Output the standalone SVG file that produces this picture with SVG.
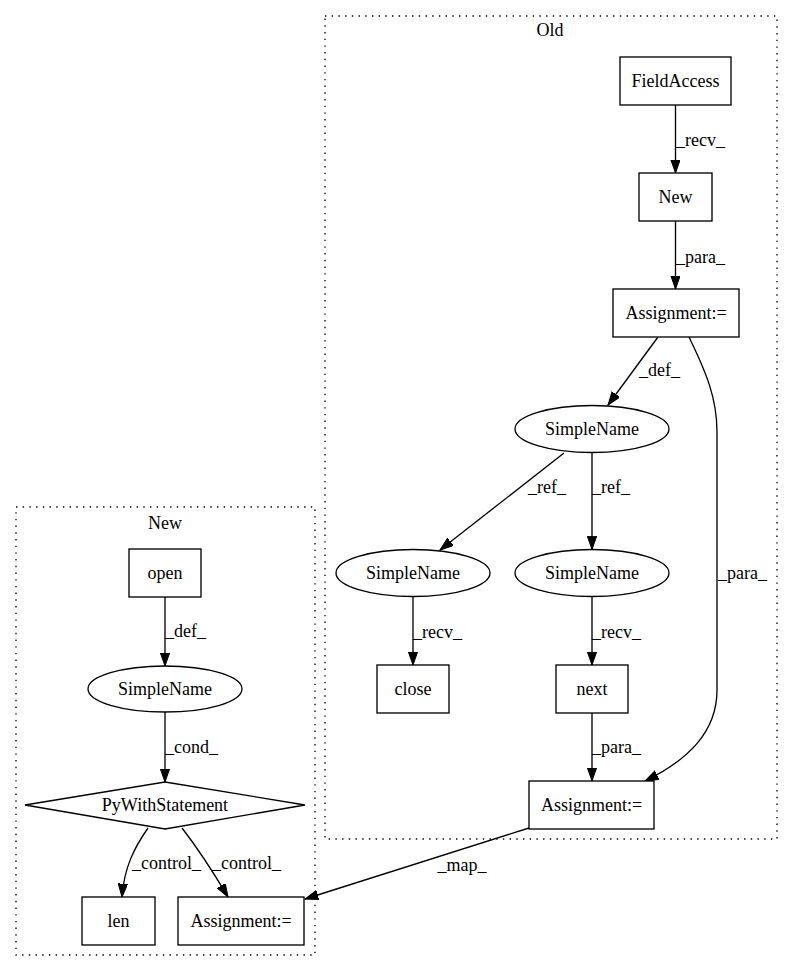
<svg xmlns="http://www.w3.org/2000/svg" width="793" height="972" viewBox="0 0 793 972">
<defs>
<style>
text{font-family:"Liberation Serif","Times New Roman",serif;font-size:18px;fill:#000}
.n{text-anchor:middle}
.node{fill:#fff;stroke:#000;stroke-width:1.33}
.cl{fill:none;stroke:#000;stroke-width:1.33;stroke-dasharray:1.4,5.3}
.e{fill:none;stroke:#000;stroke-width:1.33;marker-end:url(#ah)}
</style>
<marker id="ah" markerUnits="userSpaceOnUse" markerWidth="14" markerHeight="10" refX="13.3" refY="4.7" orient="auto">
<path d="M0,0 L13.3,4.7 L0,9.4 z" fill="#000" stroke="#000" stroke-width="1"/>
</marker>
</defs>
<rect width="793" height="972" fill="#fff"/>
<g id="cluster_old">
<rect class="cl" x="325" y="16" width="452" height="823"/>
<text class="n" x="550" y="36">Old</text>
</g>
<g id="cluster_new">
<rect class="cl" x="16" y="507" width="299" height="448"/>
<text class="n" x="165" y="529">New</text>
</g>
<g id="connectors">
<path class="e" d="M675.5,105 L675.5,173"/>
<text x="676" y="146">_recv_</text>
<path class="e" d="M675.5,221 L675.5,289"/>
<text x="676" y="263">_para_</text>
<path class="e" d="M658,337 L608,405"/>
<text x="639" y="376">_def_</text>
<path class="e" d="M689,337 C706,372 717,398 717,432 L717,690 C717,732 688,760 645,781"/>
<text x="718" y="579">_para_</text>
<path class="e" d="M564,453 L440,550"/>
<text x="528" y="493">_ref_</text>
<path class="e" d="M592,452.5 L592,549.5"/>
<text x="592" y="493">_ref_</text>
<path class="e" d="M413,596.5 L413,665"/>
<text x="413" y="638">_recv_</text>
<path class="e" d="M592,596.5 L592,665"/>
<text x="592" y="638">_recv_</text>
<path class="e" d="M592,713 L592,781"/>
<text x="592" y="753">_para_</text>
<path class="e" d="M529,828 L305,899"/>
<text class="n" x="462" y="871">_map_</text>
<path class="e" d="M165,597 L165,666"/>
<text x="165" y="637">_def_</text>
<path class="e" d="M165,712 L165,782"/>
<text x="165" y="753">_cond_</text>
<path class="e" d="M148,828 C134,848 124,868 122,897"/>
<text x="132" y="869">_control_</text>
<path class="e" d="M182,828 C196,846 212,870 228,897"/>
<text x="212" y="869">_control_</text>
</g>
<g id="FieldAccess">
<rect class="node" x="620" y="57" width="111" height="48"/>
<text class="n" x="675.5" y="87">FieldAccess</text>
</g>
<g id="NewObj">
<rect class="node" x="639" y="173" width="73" height="48"/>
<text class="n" x="675.5" y="203">New</text>
</g>
<g id="Assign1">
<rect class="node" x="613" y="289" width="126" height="48"/>
<text class="n" x="676" y="319">Assignment:=</text>
</g>
<g id="SimpleName1">
<ellipse class="node" cx="592" cy="429" rx="77" ry="23.5"/>
<text class="n" x="592" y="435">SimpleName</text>
</g>
<g id="SimpleName2">
<ellipse class="node" cx="413" cy="573" rx="77" ry="23.5"/>
<text class="n" x="413" y="579">SimpleName</text>
</g>
<g id="SimpleName3">
<ellipse class="node" cx="592" cy="573" rx="77" ry="23.5"/>
<text class="n" x="592" y="579">SimpleName</text>
</g>
<g id="close">
<rect class="node" x="377" y="665" width="72" height="48"/>
<text class="n" x="413" y="695">close</text>
</g>
<g id="next">
<rect class="node" x="556" y="665" width="72" height="48"/>
<text class="n" x="592" y="695">next</text>
</g>
<g id="Assign2">
<rect class="node" x="529" y="781" width="125" height="48"/>
<text class="n" x="591.5" y="811">Assignment:=</text>
</g>
<g id="open">
<rect class="node" x="129" y="549" width="72" height="48"/>
<text class="n" x="165" y="579">open</text>
</g>
<g id="SimpleName4">
<ellipse class="node" cx="165" cy="689" rx="77" ry="23"/>
<text class="n" x="165" y="695">SimpleName</text>
</g>
<g id="PyWithStatement">
<polygon class="node" points="165,782 305,805 165,829 25,805"/>
<text class="n" x="165" y="811">PyWithStatement</text>
</g>
<g id="len">
<rect class="node" x="82" y="897" width="73" height="48"/>
<text class="n" x="118.5" y="927">len</text>
</g>
<g id="Assign3">
<rect class="node" x="178" y="897" width="126" height="48"/>
<text class="n" x="241" y="927">Assignment:=</text>
</g>
</svg>
